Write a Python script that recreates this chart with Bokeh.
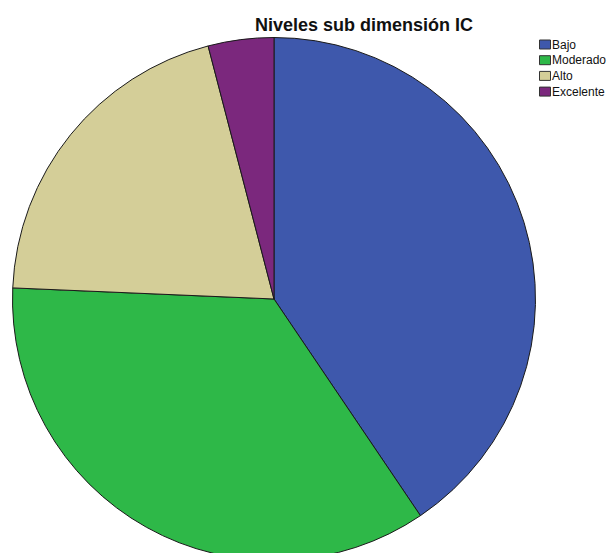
import math
from bokeh.plotting import figure
from bokeh.models import Range1d, ColumnDataSource
from bokeh.core.properties import value
from bokeh.embed import file_html
from bokeh.resources import INLINE

categories = ["Bajo", "Moderado", "Alto", "Excelente"]
counts = [30, 26, 15, 3]
colors = ["#3E58AC", "#2EB848", "#D4CE98", "#7B287D"]
title_text = "Niveles sub dimensión IC"

W, H = 607, 553
p = figure(width=W, height=H, output_backend="svg", toolbar_location=None,
           x_range=Range1d(0, W), y_range=Range1d(0, H),
           min_border=0, outline_line_color=None)
p.axis.visible = False
p.grid.visible = False

# pie (data units = pixels, y = H - image y)
cx, cy, r = 273.5, H - 298.5, 261.5
total = sum(counts)
starts, ends = [], []
cum = 0
for c in counts:
    starts.append(math.pi / 2 - 2 * math.pi * cum / total)
    cum += c
    ends.append(math.pi / 2 - 2 * math.pi * cum / total)
src = ColumnDataSource(dict(start=starts, end=ends, color=colors, cat=categories))
p.wedge(x=cx, y=cy, radius=r, start_angle="start", end_angle="end",
        direction="clock", fill_color="color", line_color="#1a1a1a",
        line_width=1, source=src)

# title
p.text(x=[363.5], y=[H - 24], text=[title_text], text_font=value("Liberation Sans"),
       text_font_size="18px", text_font_style="bold", text_align="center",
       text_baseline="middle", text_color="#111111")

# legend
ly = [H - (44 + 15.7 * i) for i in range(len(categories))]
p.rect(x=[544.5] * len(categories), y=ly, width=11, height=9, fill_color=colors,
       line_color="#333333", line_width=1)
p.text(x=[551.5] * len(categories), y=ly, text=categories,
       text_font=value("Liberation Sans"), text_font_size="12px",
       text_baseline="middle", text_align="left", text_color="#111111")

open("out.html", "w").write(file_html(p, INLINE))
